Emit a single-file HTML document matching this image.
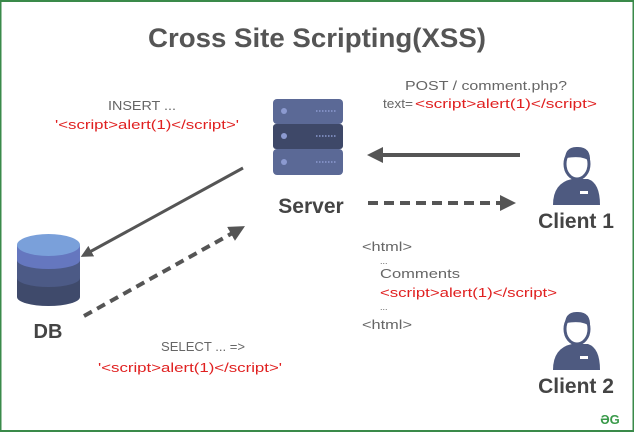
<!DOCTYPE html>
<html><head><style>
body{margin:0;width:634px;height:432px;overflow:hidden;background:#fff}
svg{display:block}
text{font-family:"Liberation Sans",sans-serif}
</style></head><body>
<svg width="634" height="432" viewBox="0 0 634 432">
<rect x="0.5" y="1" width="633" height="430" fill="#fff" stroke="#3a8a4a" stroke-width="2"/>
<text x="317" y="47" font-size="27" fill="#555" text-anchor="middle" font-weight="bold" textLength="338" lengthAdjust="spacingAndGlyphs">Cross Site Scripting(XSS)</text>
<defs>
<marker id="a" markerWidth="4" markerHeight="4" refX="2" refY="2" orient="auto"><path d="M0,0 L4,2 L0,4 Z" fill="#555"/></marker>
</defs>
<rect x="273" y="99" width="70" height="25" rx="4" fill="#5b6996"/>
<rect x="273" y="124" width="70" height="25" rx="3" fill="#3e4868"/>
<rect x="273" y="149" width="70" height="26" rx="4" fill="#5b6996"/>
<circle cx="284" cy="111" r="3" fill="#8c9ad0"/><circle cx="284" cy="136" r="3" fill="#8c9ad0"/><circle cx="284" cy="162" r="3" fill="#8c9ad0"/>
<g stroke="#8c9ad0" stroke-width="1.5" stroke-dasharray="1.5 1.5"><line x1="316" y1="111" x2="336" y2="111"/><line x1="316" y1="136" x2="336" y2="136"/><line x1="316" y1="162" x2="336" y2="162"/></g>
<text x="311" y="213" font-size="21" font-weight="bold" fill="#444" text-anchor="middle">Server</text>
<line x1="520" y1="155" x2="375" y2="155" stroke="#555" stroke-width="4" marker-end="url(#a)"/>
<line x1="368" y1="203" x2="508" y2="203" stroke="#555" stroke-width="4" stroke-dasharray="10 6" marker-end="url(#a)"/>
<line x1="243" y1="168" x2="86" y2="254" stroke="#555" stroke-width="3" marker-end="url(#a)"/>
<line x1="84" y1="316" x2="238" y2="230" stroke="#555" stroke-width="4" stroke-dasharray="9 6" marker-end="url(#a)"/>
<path d="M17,245 L17,297 A31.5,9 0 0 0 80,297 L80,245 Z" fill="#3f4a6b"/>
<path d="M17,245 L17,278 A31.5,9 0 0 0 80,278 L80,245 Z" fill="#4c5a86"/>
<path d="M17,245 L17,260 A31.5,9 0 0 0 80,260 L80,245 Z" fill="#6577bf"/>
<ellipse cx="48.5" cy="245" rx="31.5" ry="11" fill="#7aa0da"/>
<text x="48" y="338" font-size="20" font-weight="bold" fill="#444" text-anchor="middle">DB</text>
<g id="p" fill="#4e5a80">
<path d="M553,205 Q553,183 572,179 L588,179 Q600,183 600,205 Z"/>
<ellipse cx="577" cy="164" rx="12" ry="15" fill="#fff" stroke="#4e5a80" stroke-width="3"/>
<path d="M565,162 Q564,146 578,147 Q591,147 590,162 Q584,155 566,158 Z"/>
<rect x="580" y="191" width="8" height="3" fill="#fff"/>
</g>
<use href="#p" y="165"/>
<text x="576" y="228" font-size="21" fill="#444" text-anchor="middle" font-weight="bold">Client 1</text>
<text x="576" y="393" font-size="21" fill="#444" text-anchor="middle" font-weight="bold">Client 2</text>
<text x="610" y="424" font-size="13" fill="#3a9a4a" text-anchor="middle" font-weight="bold">ƏG</text>
<g font-size="13" lengthAdjust="spacingAndGlyphs">
<text x="108" y="110" fill="#666" textLength="68" lengthAdjust="spacingAndGlyphs">INSERT ...</text>
<text x="55" y="129" fill="#e02020" textLength="184" lengthAdjust="spacingAndGlyphs">'&lt;script&gt;alert(1)&lt;/script&gt;'</text>
<text x="405" y="90" fill="#666" textLength="162" lengthAdjust="spacingAndGlyphs">POST / comment.php?</text>
<text x="383" y="108" fill="#666" textLength="30" lengthAdjust="spacingAndGlyphs">text=</text>
<text x="415" y="108" fill="#e02020" textLength="182" lengthAdjust="spacingAndGlyphs">&lt;script&gt;alert(1)&lt;/script&gt;</text>
<text x="161" y="351" fill="#666" textLength="84" lengthAdjust="spacingAndGlyphs">SELECT ... =&gt;</text>
<text x="98" y="372" fill="#e02020" textLength="184" lengthAdjust="spacingAndGlyphs">'&lt;script&gt;alert(1)&lt;/script&gt;'</text>
<text x="362" y="251" fill="#666" textLength="50" lengthAdjust="spacingAndGlyphs">&lt;html&gt;</text>
<text x="380" y="264" font-size="9" fill="#666">...</text>
<text x="380" y="278" fill="#666" textLength="80" lengthAdjust="spacingAndGlyphs">Comments</text>
<text x="380" y="297" fill="#e02020" textLength="177" lengthAdjust="spacingAndGlyphs">&lt;script&gt;alert(1)&lt;/script&gt;</text>
<text x="380" y="310" font-size="9" fill="#666">...</text>
<text x="362" y="329" fill="#666" textLength="50" lengthAdjust="spacingAndGlyphs">&lt;html&gt;</text>
</g>
</svg>
</body></html>
